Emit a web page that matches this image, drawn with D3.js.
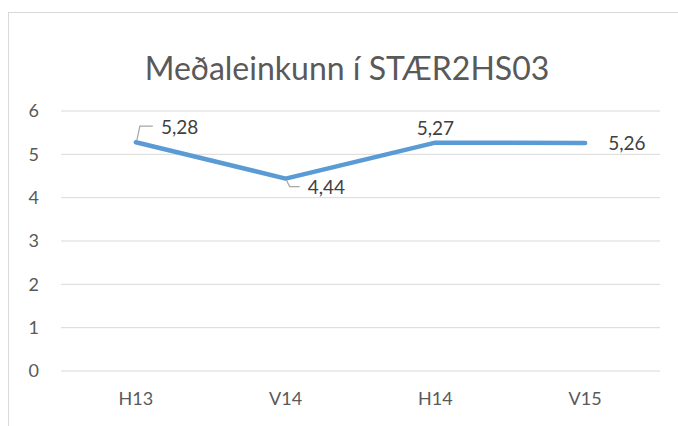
<!DOCTYPE html>
<html>
<head>
<meta charset="utf-8">
<script src="https://cdn.jsdelivr.net/npm/d3@7"></script>
<style>
  body { margin: 0; background: #fff; }
  svg { display: block; font-family: Lato, "Open Sans", sans-serif; }
</style>
</head>
<body>
<svg id="chart" width="678" height="426"></svg>
<script>
(function () {
    // data
    const categories = ['H13', 'V14', 'H14', 'V15'];
    const values = [5.28, 4.44, 5.27, 5.26];
    const yTicks = [0, 1, 2, 3, 4, 5, 6];
    const labels = ['5,28', '4,44', '5,27', '5,26'];
    const title = 'Meðaleinkunn í STÆR2HS03';

    const svg = d3.select('#chart');
    const margin = { top: 111, right: 18, bottom: 55, left: 61 };
    const W = 678, H = 426;

    // chart frame
    svg.append('rect')
        .attr('x', 8.5).attr('y', 12.5)
        .attr('width', 700).attr('height', 450)
        .attr('fill', '#fff')
        .attr('stroke', '#d9d9d9');

    const x = d3.scaleBand()
        .domain(categories)
        .range([margin.left, W - margin.right]);

    const y = d3.scaleLinear()
        .domain([0, 6])
        .range([H - margin.bottom, margin.top]);

    // gridlines
    svg.append('g')
        .selectAll('line')
        .data(yTicks)
        .join('line')
        .attr('x1', margin.left).attr('x2', W - margin.right)
        .attr('y1', d => y(d)).attr('y2', d => y(d))
        .attr('stroke', '#d9d9d9')
        .attr('stroke-width', 1);

    // y axis labels
    const yAxis = svg.append('g')
        .attr('transform', `translate(${margin.left - 22},0)`)
        .call(d3.axisLeft(y).tickValues(yTicks).tickFormat(d3.format('d')).tickSize(0).tickPadding(0));
    yAxis.select('.domain').remove();
    yAxis.selectAll('text')
        .attr('text-anchor', 'end')
        .attr('fill', '#595959')
        .style('font-size', '18px')
        .style('font-family', 'Lato, sans-serif');

    // x axis labels
    const xAxis = svg.append('g')
        .attr('transform', `translate(0,${y(0) + 21})`)
        .call(d3.axisBottom(x).tickSize(0).tickPadding(0));
    xAxis.select('.domain').remove();
    xAxis.selectAll('text')
        .attr('fill', '#595959')
        .style('font-size', '18px')
        .style('font-family', 'Lato, sans-serif');

    // title
    svg.append('text')
        .attr('x', 347).attr('y', 80)
        .attr('text-anchor', 'middle')
        .attr('fill', '#595959')
        .style('font-size', '32px')
        .text(title);

    // line
    const cx = d => x(d) + x.bandwidth() / 2;
    const pts = categories.map((c, i) => [cx(c), y(values[i])]);
    svg.append('path')
        .datum(pts)
        .attr('d', d3.line())
        .attr('fill', 'none')
        .attr('stroke', '#5b9bd5')
        .attr('stroke-width', 4.5)
        .attr('stroke-linecap', 'round')
        .attr('stroke-linejoin', 'round');

    // leader lines
    const leader = (p) => svg.append('path')
        .attr('d', d3.line()(p))
        .attr('fill', 'none')
        .attr('stroke', '#a6a6a6')
        .attr('stroke-width', 1.2);
    leader([[pts[0][0] + 1, pts[0][1] - 2], [pts[0][0] + 4, pts[0][1] - 16], [pts[0][0] + 17, pts[0][1] - 16]]);
    leader([[pts[1][0] + 1, pts[1][1] + 2], [pts[1][0] + 4, pts[1][1] + 8], [pts[1][0] + 14, pts[1][1] + 8]]);

    // data labels
    const lbl = (tx, ty, t, anchor) => svg.append('text')
        .attr('x', tx).attr('y', ty)
        .attr('text-anchor', anchor)
        .attr('fill', '#404040')
        .style('font-size', '19px')
        .text(t);
    lbl(pts[0][0] + 25, pts[0][1] - 8, labels[0], 'start');
    lbl(pts[1][0] + 22, pts[1][1] + 15, labels[1], 'start');
    lbl(pts[2][0], pts[2][1] - 8, labels[2], 'middle');
    lbl(pts[3][0] + 23, pts[3][1] + 7, labels[3], 'start');
})();
</script>
</body>
</html>
